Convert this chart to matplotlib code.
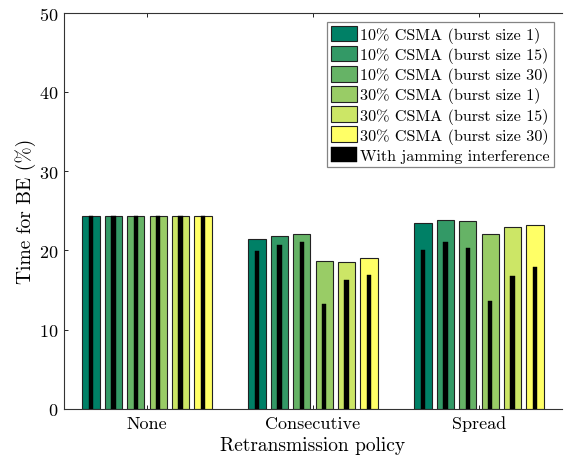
import numpy as np
import matplotlib
matplotlib.use("Agg")
import matplotlib.pyplot as plt

categories = ["None", "Consecutive", "Spread"]
series_labels = ["10% CSMA (burst size 1)", "10% CSMA (burst size 15)", "10% CSMA (burst size 30)",
                 "30% CSMA (burst size 1)", "30% CSMA (burst size 15)", "30% CSMA (burst size 30)"]
jam_label = "With jamming interference"

# rows: series, columns: categories
no_jam = [
    [24.3, 21.4, 23.5],
    [24.3, 21.8, 23.8],
    [24.3, 22.1, 23.7],
    [24.3, 18.7, 22.1],
    [24.3, 18.5, 22.9],
    [24.3, 19.0, 23.2],
]
jam = [
    [24.3, 19.9, 20.1],
    [24.3, 20.7, 21.1],
    [24.3, 21.1, 20.3],
    [24.3, 13.2, 13.6],
    [24.3, 16.2, 16.8],
    [24.3, 16.9, 17.9],
]
yticks = [0, 10, 20, 30, 40, 50]

plt.rcParams['font.family'] = ['cmr10']
plt.rcParams['mathtext.fontset'] = 'cm'
plt.rcParams['axes.formatter.use_mathtext'] = True

fig = plt.figure(figsize=(5.65, 4.6), dpi=100)
ax = fig.add_axes([64/565, 1-409.7/460, (562-64)/565, (409.7-13.7)/460])

cmap = plt.get_cmap('summer')
n = len(series_labels)
colors = [cmap(i/(n-1)) for i in range(n)]
x = np.arange(1, len(categories)+1)
pitch = 0.135
width = 0.104
jw = 0.027

handles = []
for i in range(n):
    off = (i - (n-1)/2) * pitch
    h = ax.bar(x + off, no_jam[i], width=width, color=colors[i], edgecolor='#222222',
               linewidth=0.8, label=series_labels[i], zorder=2)
    handles.append(h)
    hj = ax.bar(x + off, jam[i], width=jw, color='black', edgecolor='black', linewidth=0.3,
                label=jam_label if i == 0 else None, zorder=3)
    if i == 0:
        jh = hj
handles.append(jh)

ax.set_xlim(0.5, 3.5)
ax.set_ylim(0, 50)
ax.set_xticks(x)
ax.set_xticklabels(categories)
ax.set_yticks(yticks)
ax.tick_params(axis='both', direction='in', labelsize=13, length=3, width=0.6)
ax.tick_params(axis='x', top=True, length=3, pad=5)
ax.tick_params(axis='y', pad=4)
ax.spines['right'].set_visible(False)
for s in ['left', 'bottom', 'top']:
    ax.spines[s].set_linewidth(0.8)
    ax.spines[s].set_color('#333333')

ax.set_xlabel("Retransmission policy", fontsize=14, labelpad=3)
ax.set_ylabel("Time for BE (%)", fontsize=14, labelpad=2)

leg = ax.legend(handles=handles, loc='upper right', bbox_to_anchor=(0.99, 0.985),
                fontsize=11.6, frameon=True, fancybox=False, edgecolor='#666666',
                handlelength=1.6, handleheight=1.1, handletextpad=0.2,
                labelspacing=0.18, borderpad=0.25, borderaxespad=0.2)
leg.get_frame().set_linewidth(0.9)

fig.savefig("out.png", dpi=100)
